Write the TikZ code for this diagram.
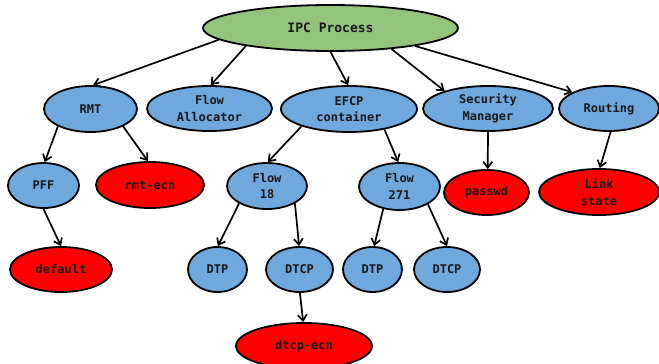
\documentclass[tikz,border=0pt]{standalone}
\usepackage{fontspec}
\setmonofont{DejaVu Sans Mono}
\usetikzlibrary{shapes.geometric,arrows.meta}
\definecolor{procgreen}{RGB}{147,196,125}
\definecolor{compblue}{RGB}{111,168,220}
\definecolor{leafred}{RGB}{255,0,0}
\tikzset{
  blob/.style={ellipse, draw=black, line width=1.8pt, inner sep=0pt,
    font=\ttfamily\bfseries\fontsize{12}{16.5}\selectfont, align=center, text=black!90},
  comp/.style={blob, fill=compblue},
  leaf/.style={blob, fill=leafred},
  proc/.style={blob, fill=procgreen, font=\ttfamily\bfseries\fontsize{13}{16}\selectfont},
  sz/.style 2 args={minimum width=#1pt, minimum height=#2pt},
  link/.style={line width=1.7pt, -{Straight Barb[length=6pt,width=9pt,line width=1.7pt]}}
}
\begin{document}
\begin{tikzpicture}[x=1pt,y=-1pt]
\useasboundingbox (0,0) rectangle (659,364);

% root
\node[proc, sz={255}{46}] (ipc) at (330.5,28) {IPC Process};

% first level
\node[comp, sz={93}{46}]  (rmt)  at (90.5,109)  {RMT};
\node[comp, sz={125}{45}] (fa)   at (209.5,108.5) {Flow\\Allocator};
\node[comp, sz={136}{46}] (efcp) at (349,109)   {EFCP\\container};
\node[comp, sz={130}{45}] (sec)  at (488,108.5) {Security\\Manager};
\node[comp, sz={100}{45}] (rout) at (609,108.5) {Routing};

% second level
\node[comp, sz={71}{45}]  (pff)   at (43.5,185.5) {PFF};
\node[leaf, sz={108}{46}] (recn)  at (150,185)   {rmt-ecn};
\node[comp, sz={80}{46}]  (f18)   at (267,186)   {Flow\\18};
\node[comp, sz={81}{47}]  (f271)  at (399.5,186.5) {Flow\\271};
\node[leaf, sz={85}{45}]  (pwd)   at (486.5,192.5) {passwd};
\node[leaf, sz={120}{46}] (lstate) at (599,192)  {Link\\state};

% third level
\node[leaf, sz={102}{45}] (dflt)  at (61,269.5)  {default};
\node[comp, sz={59}{45}]  (dtpa)  at (217.5,269.5) {DTP};
\node[comp, sz={67}{45}]  (dtcpa) at (299.5,269.5) {DTCP};
\node[comp, sz={59}{45}]  (dtpb)  at (372.5,269.5) {DTP};
\node[comp, sz={66}{45}]  (dtcpb) at (447,269.5)   {DTCP};

% fourth level
\node[leaf, sz={136}{46}] (decn)  at (304,346)   {dtcp-ecn};

% connectors
\draw[link] (ipc.186) -- (rmt.84);
\draw[link] (ipc.192) -- (fa.87);
\draw[link] (ipc.270) -- (efcp.92);
\draw[link] (ipc.341) -- (sec.158);
\draw[link] (ipc.348) -- (rout.156);

\draw[link] (rmt.208) -- (pff.87);
\draw[link] (rmt.332) -- (recn.95);
\draw[link] (efcp.200) -- (f18.88);
\draw[link] (efcp.330) -- (f271.93);
\draw[link] (sec.270) -- (pwd.87);
\draw[link] (rout.274) -- (lstate.88);

\draw[link] (pff.270) -- (dflt.90);
\draw[link] (f18.212) -- (dtpa.89);
\draw[link] (f18.328) -- (dtcpa.91);
\draw[link] (f271.234) -- (dtpb.86);
\draw[link] (f271.328) -- (dtcpb.90);
\draw[link] (dtcpa.271) -- (decn.92);
\end{tikzpicture}
\end{document}
